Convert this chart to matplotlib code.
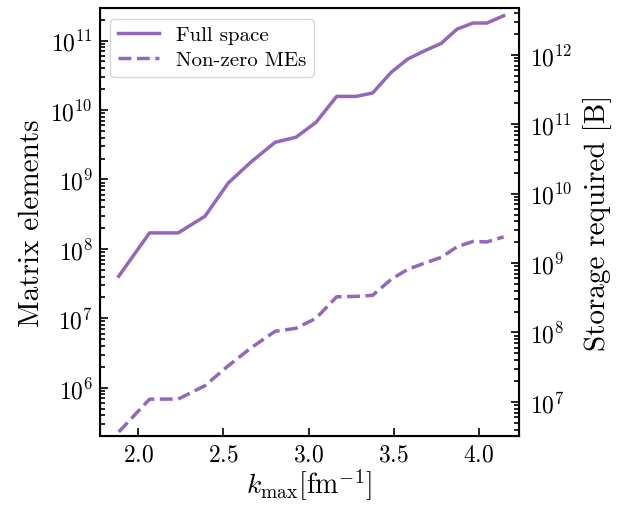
import matplotlib
matplotlib.use('Agg')
import matplotlib.pyplot as plt

plt.rcParams['font.family'] = 'serif'
plt.rcParams['font.serif'] = ['cmr10']
plt.rcParams['mathtext.fontset'] = 'cm'
plt.rcParams['axes.formatter.use_mathtext'] = True
plt.rcParams['axes.unicode_minus'] = False

# k_max grid [fm^-1]
k_max = [1.886, 2.067, 2.235, 2.392, 2.529, 2.663, 2.804, 2.926, 3.044, 3.165,
         3.279, 3.376, 3.485, 3.582, 3.681, 3.779, 3.871, 3.965, 4.047, 4.145]

# number of matrix elements
full_space = [4.04e7, 1.70e8, 1.70e8, 2.95e8, 8.9e8, 1.79e9, 3.43e9, 4.05e9, 6.65e9, 1.57e10,
              1.57e10, 1.76e10, 3.49e10, 5.42e10, 7.13e10, 9.12e10, 1.46e11, 1.79e11, 1.79e11, 2.28e11]
non_zero = [2.31e5, 6.84e5, 6.87e5, 1.07e6, 2.07e6, 3.76e6, 6.5e6, 7.18e6, 1.0e7, 2.04e7,
            2.07e7, 2.14e7, 3.64e7, 5.07e7, 6.22e7, 7.55e7, 1.07e8, 1.28e8, 1.26e8, 1.49e8]

bytes_per_me = 16  # complex double

color = '#9467bd'

fig = plt.figure(figsize=(6.2, 5.06), dpi=100)
ax = fig.add_axes([0.161, 0.1364, 0.676, 0.8456])

ax.plot(k_max, full_space, color=color, lw=2.5, label='Full space')
ax.plot(k_max, non_zero, color=color, lw=2.5, ls='--', label='Non-zero MEs')
ax.set_yscale('log')
ax.set_xlim(1.775, 4.235)
ylo, yhi = 10**5.305, 10**11.468
ax.set_ylim(ylo, yhi)
ax.set_xlabel(r'$k_{\max}[\mathrm{fm}^{-1}]$', fontsize=20, labelpad=1)
ax.set_ylabel('Matrix elements', fontsize=21)
ax.tick_params(which='both', direction='in', top=False, right=False, labelsize=17, width=1.2)
ax.tick_params(which='major', length=6, pad=5)
ax.tick_params(which='minor', length=3.5)
ax.legend(loc='upper left', fontsize=15, framealpha=0.8, labelspacing=0.3,
          borderpad=0.35, borderaxespad=0.5, handlelength=2.0)
for s in ax.spines.values():
    s.set_linewidth(1.5)

ax2 = ax.twinx()
ax2.set_yscale('log')
ax2.set_ylim(ylo * bytes_per_me, yhi * bytes_per_me)
ax2.set_ylabel('Storage required [B]', fontsize=21, labelpad=8)
ax2.tick_params(which='both', direction='in', labelsize=17, width=1.2)
ax2.tick_params(which='major', length=6, pad=8)
ax2.tick_params(which='minor', length=3.5)

fig.savefig('out.png', dpi=100)
